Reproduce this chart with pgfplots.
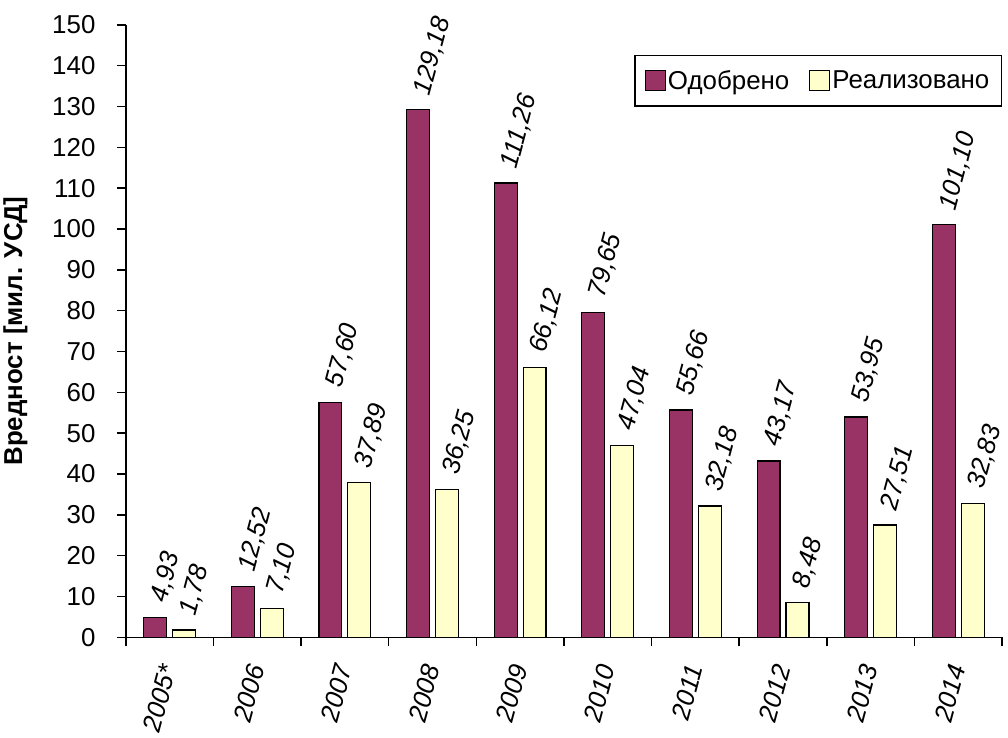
\documentclass[border=0pt]{standalone}
\usepackage{pgfplots}
\pgfplotsset{compat=1.18}
\usepackage{fontspec}
\setmainfont{Liberation Sans}
\definecolor{odob}{HTML}{993366}
\definecolor{real}{HTML}{FFFFCC}
\begin{document}
\begin{tikzpicture}
\begin{axis}[
  scale only axis, width=880pt, height=615pt,
  font=\fontsize{26}{30}\selectfont,
  xmin=-0.5, xmax=9.5, ymin=0, ymax=150,
  axis x line*=bottom, axis y line*=left,
  axis line style={line width=1.5pt},
  tick align=outside, major tick length=9pt,
  tick style={line width=1.5pt, black},
  ytick={0,10,...,150},
  yticklabel shift=18pt,
  xtick={-0.5,0.5,...,9.5},
  x tick label as interval,
  xticklabels={2005*,2006,2007,2008,2009,2010,2011,2012,2013,2014},
  xticklabel style={rotate=75, anchor=east, font=\fontsize{26}{30}\selectfont\itshape},
  xticklabel shift=16pt,
  /pgf/number format/assume math mode=true,
  ylabel={\bfseries Вредност [мил. УСД]},
  ylabel shift=18pt,
  ybar=6pt, bar width=23pt,
  clip=false,
  legend style={at={(1,0.951)}, anchor=north east, legend columns=2, draw=black, line width=1.5pt,
    font=\fontsize{26}{30}\selectfont, inner xsep=10pt, inner ysep=13pt,
    /tikz/every even column/.append style={column sep=18pt}},
  legend image code/.code={\draw[#1, line width=1.2pt] (0pt,-10pt) rectangle (20pt,10pt);},
  nodes near coords={\pgfmathprintnumber[fixed,fixed zerofill,precision=2,use comma,assume math mode=true]{\pgfplotspointmeta}},
  every node near coord/.append style={rotate=75, anchor=west, xshift=12pt, font=\fontsize{26}{30}\selectfont\itshape, black},
]
\addplot[fill=odob, draw=black, line width=1.2pt] coordinates {
  (0,4.93) (1,12.52) (2,57.60) (3,129.18) (4,111.26) (5,79.65) (6,55.66) (7,43.17) (8,53.95) (9,101.10)};
\addplot[fill=real, draw=black, line width=1.2pt] coordinates {
  (0,1.78) (1,7.10) (2,37.89) (3,36.25) (4,66.12) (5,47.04) (6,32.18) (7,8.48) (8,27.51) (9,32.83)};
\legend{Одобрено, Реализовано\hspace{14pt}}
\end{axis}
\path ([yshift=25pt]current axis.north west);
\end{tikzpicture}
\end{document}
